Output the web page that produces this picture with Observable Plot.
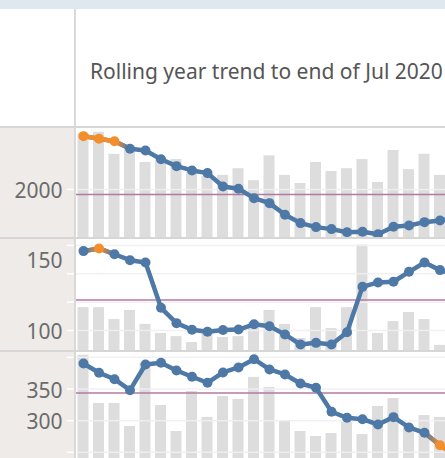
<!DOCTYPE html>
<html><head><meta charset="utf-8">
<script src="https://cdn.jsdelivr.net/npm/d3@7"></script>
<script src="https://cdn.jsdelivr.net/npm/@observablehq/plot@0.6"></script>
<style>
html,body{margin:0;padding:0;width:445px;height:458px;overflow:hidden;background:#fff;font-family:"Noto Sans",sans-serif;}
#root{position:relative;width:445px;height:458px;overflow:hidden;}
.band{position:absolute;left:0;top:0;width:445px;height:9px;background:#dde8f0;}
.title{position:absolute;left:90px;top:61px;font-size:21px;line-height:21px;color:#555;white-space:nowrap;}
.vline{position:absolute;left:74px;top:9px;width:2px;height:449px;background:#d9d9d9;z-index:5;}
.hline{position:absolute;left:0;width:445px;height:2px;background:#d6d6d6;z-index:5;}
.panel{position:absolute;left:0;width:445px;overflow:hidden;background:linear-gradient(to right,#eeebe8 0,#eeebe8 75px,#fff 75px);}
.panel svg{position:absolute;left:0;top:0;}
</style>
</head><body>
<svg width="0" height="0" style="position:absolute">
  <defs>
    <linearGradient id="o2b" x1="0" y1="0" x2="1" y2="0">
      <stop offset="0" stop-color="#f28e2b"/><stop offset="1" stop-color="#4e79a7"/>
    </linearGradient>
    <linearGradient id="b2o" x1="0" y1="0" x2="1" y2="0">
      <stop offset="0" stop-color="#4e79a7"/><stop offset="1" stop-color="#f28e2b"/>
    </linearGradient>
  </defs>
</svg>
<div id="root">
  <div class="band"></div>
  <div class="title">Rolling year trend to end of Jul 2020</div>
</div>
<script>
const months = ["Jul 2018","Aug 2018","Sep 2018","Oct 2018","Nov 2018","Dec 2018","Jan 2019","Feb 2019","Mar 2019","Apr 2019","May 2019","Jun 2019","Jul 2019","Aug 2019","Sep 2019","Oct 2019","Nov 2019","Dec 2019","Jan 2020","Feb 2020","Mar 2020","Apr 2020","May 2020","Jun 2020","Jul 2020"];

const rolling1 = [2398,2378,2360,2304,2291,2226,2174,2142,2122,2022,2005,1935,1898,1811,1749,1719,1704,1681,1684,1666,1722,1731,1756,1769,1784];
const monthly1 = [219,222,176,188,159,165,165,138,130,132,146,121,173,132,115,159,140,146,165,117,184,144,176,132,188];
const highlight1 = [0,1,2];
const ref1 = 1963;
const labels1 = [2000];
const grid1 = [2000];

const rolling2 = [156.0,157.9,153.8,149.6,148.0,116.0,105.2,100.5,99.1,100.4,100.7,104.4,103.0,97.2,90.1,91.3,90.1,98.8,130.8,133.9,134.4,141.4,148.0,142.6,139.5];
const monthly2 = [15.1,15.1,10.9,14.1,9.2,6.0,4.9,2.8,6.0,4.6,4.9,9.9,14.1,9.2,4.2,15.1,7.7,15.1,37.1,6.0,10.2,13.4,10.9,1.8,11.0];
const highlight2 = [1];
const ref2 = 121.5;
const labels2 = [150,100];
const grid2 = [100,120,140,160];

const rolling3 = [390.3,375.6,365.5,348.1,388.7,391.4,379.2,369.3,359.8,376.1,384.0,397.1,380.8,372.9,358.7,351.9,314.0,304.5,302.3,293.9,305.5,289.2,280.8,261.2,245.0];
const monthly3 = [55.8,29.7,29.7,17.3,51.4,28.6,14.6,36.2,22.2,33.5,31.9,43.8,38.4,20.5,14.6,11.9,13.5,19.5,13.0,28.1,32.4,17.3,23.2,22.2,22.2];
const highlight3 = [23,24];
const ref3 = 343.7;
const labels3 = [350,300];
const grid3 = [250,300,350,400];

const BLUE = "#4e79a7", ORANGE = "#f28e2b", BAR = "#dddddd", REF = "#b07aa1";

const panels = [
  {rolling: rolling1, monthly: monthly1, hl: highlight1, ref: ref1, labels: labels1, grid: grid1, top: 128, height: 110, yDomain: [1634, 2455], barDomain: [0, 230]},
  {rolling: rolling2, monthly: monthly2, hl: highlight2, ref: ref2, labels: labels2, grid: grid2, top: 239, height: 111, yDomain: [85.9, 164.2], barDomain: [0, 39.1]},
  {rolling: rolling3, monthly: monthly3, hl: highlight3, ref: ref3, labels: labels3, grid: grid3, top: 351, height: 107, yDomain: [240.2, 409.2], barDomain: [0, 57.8]}
];

const root = document.getElementById("root");
const xOpt = {type: "linear", domain: [0, months.length - 1], range: [83, 83 + 15.5 * (months.length - 1)], axis: null};
const baseStyle = {background: "transparent", overflow: "visible", fontFamily: "'Noto Sans', sans-serif"};

panels.forEach(p => {
  const data = months.map((m, i) => ({m, i, v: p.rolling[i], b: p.monthly[i], hl: p.hl.includes(i)}));
  const segs = [];
  for (let i = 0; i < data.length - 1; i++) {
    const a = data[i].hl, b = data[i + 1].hl;
    if (!a && !b) continue;
    segs.push({i1: i, v1: data[i].v, i2: i + 1, v2: data[i + 1].v,
      c: a && b ? ORANGE : a ? "url(#o2b)" : "url(#b2o)"});
  }
  const div = document.createElement("div");
  div.className = "panel";
  div.style.top = p.top + "px";
  div.style.height = p.height + "px";
  root.appendChild(div);

  const bars = Plot.plot({
    width: 445, height: p.height,
    marginTop: 0, marginBottom: 0, marginLeft: 75, marginRight: 0,
    x: xOpt,
    y: {domain: p.barDomain, range: [p.height, 0], axis: null},
    style: baseStyle,
    marks: [
      Plot.rect(data, {x1: d => d.i - 0.355, x2: d => d.i + 0.355, y1: 0, y2: "b", fill: BAR})
    ]
  });
  div.appendChild(bars);

  const lines = Plot.plot({
    width: 445, height: p.height,
    marginTop: 0, marginBottom: 0, marginLeft: 75, marginRight: 0,
    x: xOpt,
    y: {domain: p.yDomain, range: [p.height, 0], axis: null},
    color: {type: "identity"},
    style: baseStyle,
    marks: [
      Plot.gridY({ticks: p.grid, stroke: "#efefef", strokeOpacity: 0.9, strokeWidth: 1.5}),
      Plot.axisY({ticks: p.grid, tickSize: 8, stroke: "white", strokeWidth: 1.5, tickFormat: () => "", label: null}),
      Plot.axisY({ticks: p.labels, tickSize: 0, tickPadding: 13, tickFormat: d => String(d), fontSize: 21, fill: "#6b6b6b", label: null, dy: 2}),
      Plot.ruleY([p.ref], {stroke: REF, strokeWidth: 1.5}),
      Plot.line(data, {x: "i", y: "v", stroke: BLUE, strokeWidth: 4.5}),
      Plot.link(segs, {x1: "i1", y1: "v1", x2: "i2", y2: "v2", stroke: "c", strokeWidth: 4.5, strokeLinecap: "round"}),
      Plot.dot(data, {x: "i", y: "v", r: 5, fill: d => d.hl ? ORANGE : BLUE})
    ]
  });
  div.appendChild(lines);
});

[{t: 126}, {t: 237}, {t: 349.5}].forEach(b => {
  const h = document.createElement("div");
  h.className = "hline";
  h.style.top = b.t + "px";
  root.appendChild(h);
});
const v = document.createElement("div");
v.className = "vline";
root.appendChild(v);
</script>
</body></html>
